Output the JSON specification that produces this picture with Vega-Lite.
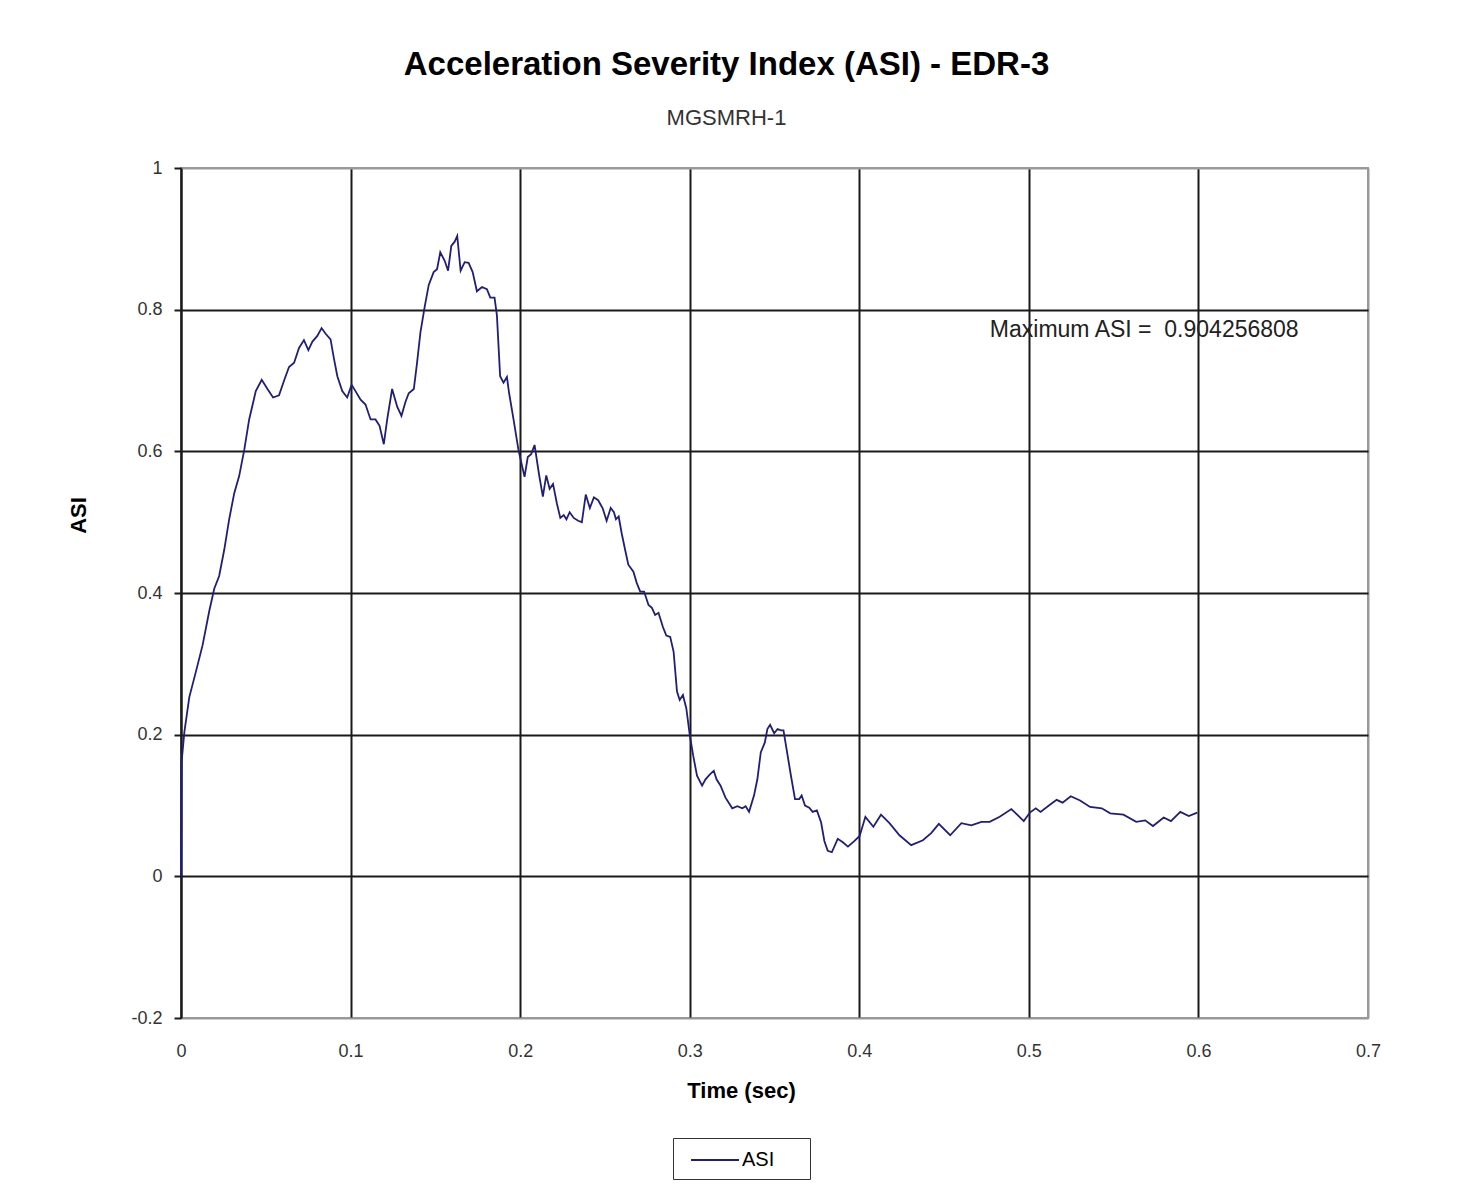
{
  "$schema": "https://vega.github.io/schema/vega-lite/v6.json",
  "width": 1187,
  "height": 850,
  "autosize": {"type": "none"},
  "padding": {"left": 181, "top": 168, "right": 91, "bottom": 175},
  "background": "white",
  "title": {
    "text": "Acceleration Severity Index (ASI) - EDR-3",
    "subtitle": "MGSMRH-1",
    "font": "Liberation Sans",
    "fontSize": 33,
    "fontWeight": "bold",
    "color": "#000000",
    "subtitleFont": "Liberation Sans",
    "subtitleFontSize": 22,
    "subtitleColor": "#333333",
    "anchor": "middle",
    "dx": -48,
    "offset": 30,
    "subtitlePadding": 26
  },
  "config": {"view": {"stroke": "#999999", "strokeWidth": 2}},
  "datasets": {
    "asi": [
      {"t": 0, "v": 0}, {"t": 0.0003, "v": 0.16}, {"t": 0.002, "v": 0.204}, {"t": 0.0049, "v": 0.253},
      {"t": 0.0088, "v": 0.289}, {"t": 0.0127, "v": 0.326}, {"t": 0.0167, "v": 0.375}, {"t": 0.0196, "v": 0.406},
      {"t": 0.0225, "v": 0.424}, {"t": 0.0255, "v": 0.461}, {"t": 0.0284, "v": 0.504}, {"t": 0.0314, "v": 0.541},
      {"t": 0.0343, "v": 0.565}, {"t": 0.0373, "v": 0.602}, {"t": 0.0402, "v": 0.645}, {"t": 0.0441, "v": 0.685},
      {"t": 0.0476, "v": 0.701}, {"t": 0.051, "v": 0.688}, {"t": 0.0543, "v": 0.676}, {"t": 0.0578, "v": 0.679},
      {"t": 0.0608, "v": 0.7}, {"t": 0.0637, "v": 0.719}, {"t": 0.0667, "v": 0.725}, {"t": 0.0696, "v": 0.746},
      {"t": 0.0725, "v": 0.757}, {"t": 0.0751, "v": 0.743}, {"t": 0.0775, "v": 0.755}, {"t": 0.0804, "v": 0.763},
      {"t": 0.0829, "v": 0.774}, {"t": 0.0853, "v": 0.766}, {"t": 0.0882, "v": 0.758}, {"t": 0.0902, "v": 0.731},
      {"t": 0.0922, "v": 0.706}, {"t": 0.0951, "v": 0.685}, {"t": 0.098, "v": 0.676}, {"t": 0.1006, "v": 0.694},
      {"t": 0.1029, "v": 0.685}, {"t": 0.1059, "v": 0.673}, {"t": 0.1088, "v": 0.666}, {"t": 0.1118, "v": 0.645},
      {"t": 0.1147, "v": 0.645}, {"t": 0.1171, "v": 0.636}, {"t": 0.1196, "v": 0.61}, {"t": 0.1216, "v": 0.645},
      {"t": 0.1245, "v": 0.688}, {"t": 0.1275, "v": 0.663}, {"t": 0.13, "v": 0.65}, {"t": 0.1324, "v": 0.67},
      {"t": 0.1343, "v": 0.682}, {"t": 0.1373, "v": 0.688}, {"t": 0.1392, "v": 0.725}, {"t": 0.1412, "v": 0.768},
      {"t": 0.1437, "v": 0.804}, {"t": 0.1461, "v": 0.835}, {"t": 0.149, "v": 0.853}, {"t": 0.151, "v": 0.857},
      {"t": 0.1529, "v": 0.881}, {"t": 0.1555, "v": 0.869}, {"t": 0.1575, "v": 0.855}, {"t": 0.1594, "v": 0.89},
      {"t": 0.1614, "v": 0.896}, {"t": 0.1629, "v": 0.904}, {"t": 0.1649, "v": 0.855}, {"t": 0.1673, "v": 0.867},
      {"t": 0.1696, "v": 0.866}, {"t": 0.172, "v": 0.853}, {"t": 0.1745, "v": 0.826}, {"t": 0.1775, "v": 0.832},
      {"t": 0.1804, "v": 0.829}, {"t": 0.1824, "v": 0.817}, {"t": 0.1849, "v": 0.817}, {"t": 0.1863, "v": 0.792},
      {"t": 0.1882, "v": 0.706}, {"t": 0.1902, "v": 0.697}, {"t": 0.1922, "v": 0.705}, {"t": 0.1935, "v": 0.682},
      {"t": 0.1961, "v": 0.645}, {"t": 0.199, "v": 0.602}, {"t": 0.2026, "v": 0.564}, {"t": 0.2045, "v": 0.592},
      {"t": 0.2065, "v": 0.596}, {"t": 0.2085, "v": 0.609}, {"t": 0.2111, "v": 0.568}, {"t": 0.2134, "v": 0.536},
      {"t": 0.2154, "v": 0.566}, {"t": 0.2174, "v": 0.547}, {"t": 0.2194, "v": 0.554}, {"t": 0.2217, "v": 0.526},
      {"t": 0.2237, "v": 0.506}, {"t": 0.2257, "v": 0.51}, {"t": 0.2273, "v": 0.504}, {"t": 0.2292, "v": 0.514},
      {"t": 0.2316, "v": 0.506}, {"t": 0.2342, "v": 0.502}, {"t": 0.2364, "v": 0.5}, {"t": 0.2387, "v": 0.539},
      {"t": 0.2411, "v": 0.52}, {"t": 0.2435, "v": 0.535}, {"t": 0.246, "v": 0.531}, {"t": 0.2486, "v": 0.52},
      {"t": 0.251, "v": 0.502}, {"t": 0.2534, "v": 0.52}, {"t": 0.2553, "v": 0.514}, {"t": 0.2565, "v": 0.504},
      {"t": 0.2581, "v": 0.508}, {"t": 0.2599, "v": 0.484}, {"t": 0.2619, "v": 0.461}, {"t": 0.2638, "v": 0.44},
      {"t": 0.2668, "v": 0.43}, {"t": 0.2688, "v": 0.414}, {"t": 0.2708, "v": 0.402}, {"t": 0.2731, "v": 0.402},
      {"t": 0.2757, "v": 0.383}, {"t": 0.2777, "v": 0.379}, {"t": 0.2796, "v": 0.369}, {"t": 0.2816, "v": 0.372},
      {"t": 0.2842, "v": 0.352}, {"t": 0.2862, "v": 0.34}, {"t": 0.2885, "v": 0.338}, {"t": 0.2905, "v": 0.317},
      {"t": 0.2925, "v": 0.261}, {"t": 0.2941, "v": 0.249}, {"t": 0.296, "v": 0.256}, {"t": 0.298, "v": 0.237},
      {"t": 0.3, "v": 0.2}, {"t": 0.302, "v": 0.171}, {"t": 0.3043, "v": 0.142}, {"t": 0.3073, "v": 0.128},
      {"t": 0.3093, "v": 0.137}, {"t": 0.3119, "v": 0.144}, {"t": 0.3142, "v": 0.149}, {"t": 0.3158, "v": 0.137},
      {"t": 0.3182, "v": 0.128}, {"t": 0.3211, "v": 0.111}, {"t": 0.3251, "v": 0.096}, {"t": 0.3281, "v": 0.099},
      {"t": 0.331, "v": 0.096}, {"t": 0.333, "v": 0.099}, {"t": 0.335, "v": 0.091}, {"t": 0.3379, "v": 0.114},
      {"t": 0.3399, "v": 0.137}, {"t": 0.3419, "v": 0.175}, {"t": 0.3443, "v": 0.189}, {"t": 0.3458, "v": 0.208},
      {"t": 0.3474, "v": 0.214}, {"t": 0.3498, "v": 0.202}, {"t": 0.3518, "v": 0.208}, {"t": 0.3538, "v": 0.206},
      {"t": 0.3553, "v": 0.206}, {"t": 0.3577, "v": 0.171}, {"t": 0.3597, "v": 0.142}, {"t": 0.3621, "v": 0.109},
      {"t": 0.3646, "v": 0.109}, {"t": 0.366, "v": 0.114}, {"t": 0.368, "v": 0.1}, {"t": 0.3705, "v": 0.097},
      {"t": 0.3725, "v": 0.091}, {"t": 0.375, "v": 0.093}, {"t": 0.3775, "v": 0.076}, {"t": 0.3794, "v": 0.05},
      {"t": 0.3814, "v": 0.036}, {"t": 0.3838, "v": 0.034}, {"t": 0.3873, "v": 0.053}, {"t": 0.3903, "v": 0.048},
      {"t": 0.3933, "v": 0.042}, {"t": 0.3972, "v": 0.05}, {"t": 0.4002, "v": 0.057}, {"t": 0.4036, "v": 0.084},
      {"t": 0.4083, "v": 0.07}, {"t": 0.4128, "v": 0.087}, {"t": 0.4178, "v": 0.075}, {"t": 0.4237, "v": 0.058},
      {"t": 0.4306, "v": 0.044}, {"t": 0.4375, "v": 0.051}, {"t": 0.4424, "v": 0.061}, {"t": 0.4469, "v": 0.074},
      {"t": 0.4536, "v": 0.058}, {"t": 0.4602, "v": 0.075}, {"t": 0.4661, "v": 0.072}, {"t": 0.472, "v": 0.077},
      {"t": 0.4769, "v": 0.077}, {"t": 0.4828, "v": 0.084}, {"t": 0.4897, "v": 0.095}, {"t": 0.4931, "v": 0.087},
      {"t": 0.497, "v": 0.078}, {"t": 0.5006, "v": 0.09}, {"t": 0.5041, "v": 0.096}, {"t": 0.5069, "v": 0.091},
      {"t": 0.5124, "v": 0.101}, {"t": 0.5164, "v": 0.108}, {"t": 0.5199, "v": 0.104}, {"t": 0.5247, "v": 0.113},
      {"t": 0.5302, "v": 0.107}, {"t": 0.5361, "v": 0.098}, {"t": 0.543, "v": 0.096}, {"t": 0.548, "v": 0.089},
      {"t": 0.5558, "v": 0.087}, {"t": 0.5633, "v": 0.077}, {"t": 0.5686, "v": 0.079}, {"t": 0.5732, "v": 0.071},
      {"t": 0.5795, "v": 0.083}, {"t": 0.5838, "v": 0.078}, {"t": 0.5893, "v": 0.091}, {"t": 0.5943, "v": 0.085},
      {"t": 0.5993, "v": 0.09}
    ],
    "note": [{"t": 0.477, "v": 0.771, "label": "Maximum ASI = \u00a00.904256808"}]
  },
  "layer": [
    {
      "data": {"name": "asi"},
      "mark": {"type": "line", "strokeWidth": 1.8, "interpolate": "linear"},
      "encoding": {
        "x": {
          "field": "t", "type": "quantitative",
          "scale": {"domain": [0, 0.7], "nice": false, "zero": false},
          "axis": {
            "title": "Time (sec)",
            "values": [0, 0.1, 0.2, 0.3, 0.4, 0.5, 0.6, 0.7],
            "labelExpr": "format(datum.value, '.1~f')",
            "labelFlush": false,
            "grid": true,
            "gridColor": {"condition": {"test": "datum.value > 0.65", "value": "#999999"}, "value": "#1a1a1a"},
            "gridWidth": 2,
            "gridOpacity": 1,
            "domain": false,
            "ticks": false,
            "labelPadding": 24,
            "labelFont": "Liberation Sans",
            "labelFontSize": 18,
            "labelColor": "#333333",
            "titleFont": "Liberation Sans",
            "titleFontSize": 22,
            "titleFontWeight": "bold",
            "titleColor": "#000000",
            "titleX": 560,
            "titleY": 72,
            "titleBaseline": "middle",
            "titleAnchor": "start",
            "titleAlign": "center"
          }
        },
        "y": {
          "field": "v", "type": "quantitative",
          "scale": {"domain": [-0.2, 1], "nice": false, "zero": false},
          "axis": {
            "title": "ASI",
            "values": [-0.2, 0, 0.2, 0.4, 0.6, 0.8, 1],
            "labelExpr": "replace(format(datum.value, '.1~f'), '\u2212', '-')",
            "labelFlush": false,
            "grid": true,
            "gridColor": {"condition": {"test": "datum.value > 0.99 || datum.value < -0.19", "value": "#999999"}, "value": "#1a1a1a"},
            "gridWidth": 2,
            "gridOpacity": 1,
            "domain": true,
            "domainColor": "#1a1a1a",
            "domainWidth": 2,
            "ticks": true,
            "tickColor": "#1a1a1a",
            "tickSize": 7,
            "tickWidth": 2,
            "labelPadding": 12,
            "labelFont": "Liberation Sans",
            "labelFontSize": 18,
            "labelColor": "#333333",
            "titleFont": "Liberation Sans",
            "titleFontSize": 22,
            "titleFontWeight": "bold",
            "titleColor": "#000000",
            "titleAngle": -90,
            "titleX": -103,
            "titleY": 347,
            "titleBaseline": "middle",
            "titleAlign": "center",
            "titleAnchor": "start"
          }
        },
        "color": {
          "datum": "ASI",
          "type": "nominal",
          "scale": {"domain": ["ASI"], "range": ["#1f1f7a"]},
          "legend": {
            "title": null,
            "orient": "none",
            "legendX": 492,
            "legendY": 970,
            "strokeColor": "#333333",
            "padding": 9,
            "symbolType": "M-0.33,0H3.67M8.5,0",
            "symbolSize": 576,
            "symbolStrokeWidth": 2,
            "labelFont": "Liberation Sans",
            "labelFontSize": 20,
            "labelColor": "#000000",
            "labelOffset": 34
          }
        }
      }
    },
    {
      "data": {"name": "note"},
      "mark": {"type": "text", "align": "left", "baseline": "middle", "font": "Liberation Sans", "fontSize": 23, "color": "#222222"},
      "encoding": {
        "x": {"field": "t", "type": "quantitative"},
        "y": {"field": "v", "type": "quantitative"},
        "text": {"field": "label", "type": "nominal"}
      }
    }
  ]
}
